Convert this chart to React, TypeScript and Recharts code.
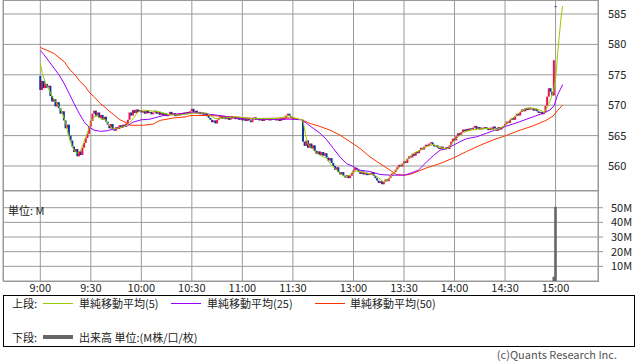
import { ComposedChart, Bar, Line, XAxis, YAxis, CartesianGrid } from 'recharts';

const FONT = '"Noto Sans CJK JP", "Noto Sans", sans-serif';
const UP = '#f0134a';
const DOWN = '#0a3a96';
const GRID = '#999';

// x = minutes since 9:00; afternoon continues at 156 (= 12:30) after the compressed lunch gap
const timeTicks = [0, 30, 60, 90, 120, 150, 186, 216, 246, 276, 306];
const timeLabels = ['9:00', '9:30', '10:00', '10:30', '11:00', '11:30', '13:00', '13:30', '14:00', '14:30', '15:00'];
const priceTicks = [560, 565, 570, 575, 580, 585];
const volumeTicks = [10, 20, 30, 40, 50];

// 1-minute closes, 9:00 - 11:30
const morningCloses = [
  572.5, 574.0, 572.8, 573.5, 572.9, 573.2, 571.5, 570.6, 571.0, 569.8,
  570.5, 569.5, 568.6, 569.0, 567.5, 566.2, 566.8, 565.0, 564.2, 563.2,
  562.3, 562.8, 561.6, 562.4, 561.8, 563.0, 563.8, 564.6, 565.3, 566.5,
  567.4, 568.6, 569.1, 568.3, 568.8, 567.9, 568.4, 567.6, 568.1, 567.3,
  566.8, 566.2, 566.9, 566.0, 565.8, 566.4, 566.1, 566.7, 566.3, 566.8,
  566.5, 567.0, 567.6, 568.8, 568.3, 569.2, 568.7, 569.3, 568.9, 569.2,
  568.8, 569.0, 568.6, 569.1, 568.7, 568.9, 568.5, 568.8, 569.1, 568.6,
  568.9, 568.4, 568.7, 568.3, 568.6, 568.2, 568.5, 568.9, 568.4, 568.7,
  568.2, 568.6, 568.3, 568.7, 568.4, 568.8, 568.5, 568.9, 568.6, 569.0,
  569.4, 568.8, 569.1, 568.6, 568.9, 568.5, 568.8, 568.4, 568.7, 568.2,
  567.9, 567.6, 567.2, 567.5, 567.0, 567.6, 567.9, 568.2, 567.8, 568.1,
  567.7, 568.0, 567.6, 568.2, 567.8, 568.1, 567.7, 568.0, 567.6, 567.9,
  567.5, 567.8, 567.4, 567.9, 567.5, 567.2, 567.7, 568.0, 567.6, 567.9,
  567.5, 567.8, 567.4, 567.9, 567.6, 567.8, 567.5, 567.9, 567.6, 567.8,
  567.5, 567.7, 567.4, 567.8, 567.6, 567.9, 568.3, 568.6, 568.2, 568.0,
  567.8,
];

// 1-minute closes, 12:30 - 15:00 (last one is the closing auction)
const afternoonCloses = [
  564.0, 563.3, 564.2, 563.0, 563.7, 562.9, 563.4, 562.5, 562.0, 562.4,
  561.8, 562.3, 561.7, 562.1, 561.4, 560.9, 561.3, 560.5, 560.0, 559.4,
  559.8, 559.0, 558.6, 559.0, 558.4, 558.1, 558.5, 558.0, 558.4, 558.9,
  559.3, 559.7, 559.4, 559.0, 558.7, 559.1, 558.6, 558.9, 558.5, 558.8,
  558.6, 559.0, 558.4, 558.0, 557.6, 557.2, 557.5, 557.0, 557.4, 557.8,
  557.5, 558.0, 558.4, 558.8, 559.0, 559.4, 559.8, 560.2, 559.9, 560.4,
  560.8, 560.5, 561.2, 561.6, 561.4, 562.0, 561.7, 562.3, 562.1, 562.6,
  563.0, 562.7, 563.2, 563.5, 563.3, 563.7, 563.9, 563.5, 563.2, 563.4,
  563.0, 562.8, 563.2, 562.9, 562.7, 563.1, 562.8, 563.4, 564.0, 564.5,
  564.2, 564.9, 565.4, 565.1, 565.6, 566.0, 565.7, 566.1, 565.8, 566.2,
  566.0, 566.3, 566.6, 566.1, 566.4, 566.0, 566.3, 566.1, 566.4, 566.2,
  565.9, 566.3, 566.0, 566.5, 566.2, 565.8, 566.4, 566.0, 566.3, 566.6,
  566.9, 567.3, 567.1, 567.6, 567.9, 567.6, 568.2, 568.6, 568.3, 568.9,
  569.3, 569.0, 569.5, 569.2, 569.6, 569.3, 569.5, 569.1, 569.4, 569.0,
  568.7, 568.9, 568.5, 568.8, 569.9, 571.4, 572.8, 572.2, 571.6, 577.4,
  586.3,
];

// first trade of the morning, of the afternoon, and the closing auction
const sessionOpens: Record<number, number> = { 0: 574.8, 156: 567.6, 306: 586.3 };

// moving averages: [x, value]
const sma5 = [
  [0, 576.9], [1.2, 575.2], [3.2, 573.6], [5.2, 572.5], [7.1, 571.4], [9.1, 570.6], [11.1, 569.8],
  [13.1, 568.7], [15.1, 567.0], [17, 564.8], [19, 563.2], [20.4, 562.4], [22, 562.1], [24, 562.6],
  [26, 564.0], [27.9, 565.4], [29.9, 567.0], [31.9, 568.1], [33.8, 568.2], [35.9, 567.8], [38.8, 567.6],
  [40.8, 566.7], [42.8, 566.2], [45.7, 566.2], [48.7, 566.4], [51.7, 566.7], [54.6, 567.6], [58.2, 568.9],
  [61.2, 569.2], [71.1, 568.9], [77, 568.4], [83, 568.4], [90.9, 568.7], [98.8, 568.7], [103.7, 567.8],
  [108.7, 567.9], [116.6, 568.1], [124.5, 567.8], [132.4, 567.8], [140.4, 567.8], [148.3, 568.3],
  [150, 568.0], [155.2, 567.6], [156.2, 567.3], [157.2, 565.6], [158.2, 564.3], [159.1, 563.5],
  [161.2, 562.9], [164.1, 562.1], [166.1, 561.8], [168, 561.5], [170, 561.3], [172, 560.4], [175, 559.6],
  [177.9, 558.8], [180.9, 558.2], [183.9, 558.5], [186.8, 559.2], [189.8, 559.1], [193.8, 558.8],
  [197.7, 558.6], [200.7, 558.1], [203.7, 557.4], [206.7, 557.7], [209.6, 558.8], [213.6, 559.9],
  [217.6, 561.0], [221.5, 562.1], [225.5, 562.6], [229.5, 563.2], [233.4, 563.5], [236.4, 563.2],
  [239.3, 562.9], [242.3, 562.9], [245.2, 564.0], [248.2, 564.8], [251.2, 565.5], [255.2, 565.9],
  [261.1, 566.1], [267.1, 566.2], [270, 565.9], [275.9, 566.6], [278.9, 567.6], [281.9, 568.1],
  [284.9, 568.9], [288.8, 569.5], [292.8, 569.5], [296.7, 569.2], [299.3, 568.8], [301.3, 569.8],
  [303.3, 571.1], [304.9, 572.5], [306.2, 574.7], [307.2, 578.3], [308.2, 581.3], [309.2, 584.3],
  [310.2, 586.3],
];

const sma25 = [
  [0, 579.0], [2.2, 578.3], [5.2, 577.2], [8.1, 576.1], [11.1, 575.0], [14.1, 573.6], [17, 572.0],
  [20, 570.3], [23, 568.7], [26, 567.3], [28.9, 566.4], [31.9, 565.9], [35.9, 565.7], [39.8, 565.8],
  [43.8, 566.1], [47.7, 566.4], [51.7, 566.6], [55, 567.2], [60, 567.6], [65.1, 567.7], [73, 568.3],
  [83, 568.6], [92.9, 568.8], [100.8, 568.5], [106.7, 568.3], [118.6, 567.8], [132.4, 567.7],
  [148.3, 567.7], [155.2, 567.6], [158.2, 567.0], [162.1, 566.2], [166.1, 565.4], [170.1, 564.3],
  [174, 562.9], [177.9, 561.5], [181.9, 560.4], [185.9, 559.9], [189.8, 559.3], [195.8, 559.1],
  [201.7, 558.6], [207.7, 558.5], [216.6, 558.5], [222.5, 559.1], [224.5, 559.3], [229.5, 560.7],
  [233.4, 561.7], [237.4, 562.6], [241.3, 562.9], [245.2, 563.4], [249.2, 564.0], [253.2, 564.5],
  [259.1, 564.8], [265.1, 565.4], [270, 565.9], [275.9, 566.5], [281.9, 567.0], [287.8, 567.6],
  [293.8, 568.2], [298.7, 568.7], [302.7, 569.2], [305.2, 570.0], [307.2, 571.7], [309.2, 572.8],
  [310.2, 573.4],
];

const sma50 = [
  [0, 579.5], [5.8, 578.8], [8.1, 578.5], [11.7, 577.7], [14.1, 577.2], [17.6, 575.8], [20, 575.2],
  [23.6, 573.9], [26, 573.3], [29.5, 572.0], [31.9, 571.4], [35.5, 570.3], [37.8, 569.8], [41.4, 568.9],
  [43.8, 568.4], [47.3, 567.6], [49.7, 567.3], [53.3, 566.7], [61.2, 566.7], [67.1, 566.9], [71.1, 567.5],
  [79, 567.9], [86.9, 568.1], [88.9, 568.3], [100.8, 568.3], [112.6, 568.1], [128.5, 567.8],
  [148.3, 567.9], [155.2, 567.6], [160.2, 567.0], [166.1, 566.5], [172, 565.9], [177.9, 565.1],
  [183.9, 564.0], [189.8, 562.9], [195.8, 561.5], [201.7, 560.4], [207.7, 559.3], [211.6, 558.6],
  [215.6, 558.5], [219.5, 558.6], [229.5, 559.7], [237.4, 560.4], [245.2, 561.3], [253.2, 562.4],
  [261.1, 563.4], [269, 564.3], [276.5, 565.0], [284.9, 565.9], [292.6, 566.6], [300.3, 567.5],
  [304.5, 568.2], [307.4, 569.2], [310.2, 570.0],
];

// volume in millions: [x, volume]
const volumes = [[305, 2.9], [306, 50.6]];

const X_DOMAIN = [-22.15, 331.2];

const toCandles = (start: number, closes: number[]) =>
  closes.map((c, k) => {
    const i = start + k;
    const o = sessionOpens[i] ?? closes[k - 1];
    return { i, o, c, range: [Math.min(o, c), Math.max(o, c)] };
  });

const candles = [...toCandles(0, morningCloses), ...toCandles(156, afternoonCloses)];
const toPoints = (pts: number[][]) => pts.map(([i, v]) => ({ i, v }));
const volumeData = volumes.map(([i, v]) => ({ i, v }));

const timeLabel = (v: number) => timeLabels[timeTicks.indexOf(v)] ?? '';

const Candle = (props: any) => {
  const { x, y, width, height, payload } = props;
  if (x == null || y == null) return null;
  const top = height < 0 ? y + height : y;
  const h = Math.max(Math.abs(height || 0), 1);
  const cx = x + (width || 0) / 2;
  return <rect x={cx - 1} y={top} width={2} height={h} fill={payload.c > payload.o ? UP : DOWN} />;
};

const VolumeBar = (props: any) => {
  const { x, y, width, height } = props;
  if (x == null || y == null) return null;
  const cx = x + (width || 0) / 2;
  return <rect x={cx - 1.3} y={y} width={2.6} height={Math.max(height, 0)} fill="#666" />;
};

const tickStyle = { fill: '#222', fontSize: 11, fontFamily: FONT };

const text = (s: string, left: number, cy: number, extra: any = {}) => (
  <div
    style={{
      position: 'absolute',
      left,
      top: cy - 7,
      height: 14,
      lineHeight: '14px',
      fontSize: 11,
      fontFamily: FONT,
      color: '#222',
      whiteSpace: 'nowrap',
      ...extra,
    }}
  >
    {s}
  </div>
);

const swatch = (left: number, cy: number, color: string, thick = 1) => (
  <div
    style={{
      position: 'absolute',
      left,
      top: cy - Math.floor(thick / 2),
      width: 30,
      height: thick,
      background: color,
    }}
  />
);

export default function App() {
  return (
    <div
      style={{
        position: 'fixed',
        left: 0,
        top: 0,
        width: 638,
        height: 362,
        background: '#fff',
        overflow: 'hidden',
      }}
    >
      {/* price panel */}
      <div style={{ position: 'absolute', left: 0, top: 0 }}>
        <ComposedChart width={638} height={191} data={candles} margin={{ top: 0, right: 0, bottom: 0, left: 3 }}>
          <CartesianGrid stroke={GRID} />
          <XAxis type="number" dataKey="i" domain={X_DOMAIN} ticks={timeTicks} allowDataOverflow hide />
          <YAxis
            orientation="right"
            type="number"
            domain={[555.89, 587.3]}
            ticks={priceTicks}
            interval={0}
            allowDataOverflow
            width={40}
            axisLine={false}
            tickLine={false}
            tickSize={0}
            tickMargin={10}
            tick={tickStyle}
          />
          <Bar dataKey="range" barSize={2} shape={Candle} isAnimationActive={false} />
          <Line data={toPoints(sma50)} dataKey="v" type="linear" stroke="#ff3300" strokeWidth={1} dot={false} isAnimationActive={false} />
          <Line data={toPoints(sma25)} dataKey="v" type="linear" stroke="#9900ff" strokeWidth={1} dot={false} isAnimationActive={false} />
          <Line data={toPoints(sma5)} dataKey="v" type="linear" stroke="#99cc00" strokeWidth={1} dot={false} isAnimationActive={false} />
        </ComposedChart>
      </div>
      <div
        style={{
          position: 'absolute',
          left: 3,
          top: 0,
          width: 596,
          height: 191,
          border: `1px solid ${GRID}`,
          boxSizing: 'border-box',
          pointerEvents: 'none',
        }}
      />

      {/* volume panel */}
      <div style={{ position: 'absolute', left: 0, top: 191 }}>
        <ComposedChart width={638} height={110} data={volumeData} margin={{ top: 0, right: 0, bottom: 0, left: 3 }}>
          <CartesianGrid stroke={GRID} />
          <XAxis
            type="number"
            dataKey="i"
            domain={X_DOMAIN}
            ticks={timeTicks}
            interval={0}
            allowDataOverflow
            height={20}
            axisLine={false}
            tickLine={false}
            tickSize={0}
            tickMargin={3}
            tickFormatter={timeLabel}
            tick={tickStyle}
          />
          <YAxis
            orientation="right"
            type="number"
            domain={[0, 61.4]}
            ticks={volumeTicks}
            interval={0}
            allowDataOverflow
            width={40}
            axisLine={false}
            tickLine={{ stroke: GRID }}
            tickSize={5}
            tickMargin={8}
            tickFormatter={(v: number) => `${v}M`}
            tick={tickStyle}
          />
          <Bar dataKey="v" barSize={3} shape={VolumeBar} isAnimationActive={false} />
        </ComposedChart>
      </div>
      <div
        style={{
          position: 'absolute',
          left: 3,
          top: 191,
          width: 596,
          height: 91,
          borderLeft: `1px solid ${GRID}`,
          borderRight: `1px solid ${GRID}`,
          borderBottom: `1px solid ${GRID}`,
          boxSizing: 'border-box',
          pointerEvents: 'none',
        }}
      />
      {text('単位: M', 8, 210)}

      {/* legend */}
      <div
        style={{
          position: 'absolute',
          left: 3,
          top: 295,
          width: 632,
          height: 52,
          border: '1px solid #000',
          boxSizing: 'border-box',
        }}
      />
      {text('上段:', 12, 303)}
      {swatch(43, 303, '#99cc00')}
      {text('単純移動平均(5)', 79, 303)}
      {swatch(171, 303, '#9900ff')}
      {text('単純移動平均(25)', 207, 303)}
      {swatch(315, 303, '#ff3300')}
      {text('単純移動平均(50)', 350, 303)}
      {text('下段:', 12, 337)}
      {swatch(43, 337, '#666', 4)}
      {text('出来高 単位:(M株/口/枚)', 79, 337)}

      {text('(c)Quants Research Inc.', 0, 354, { left: 'auto', right: 21, color: '#555' })}
    </div>
  );
}
